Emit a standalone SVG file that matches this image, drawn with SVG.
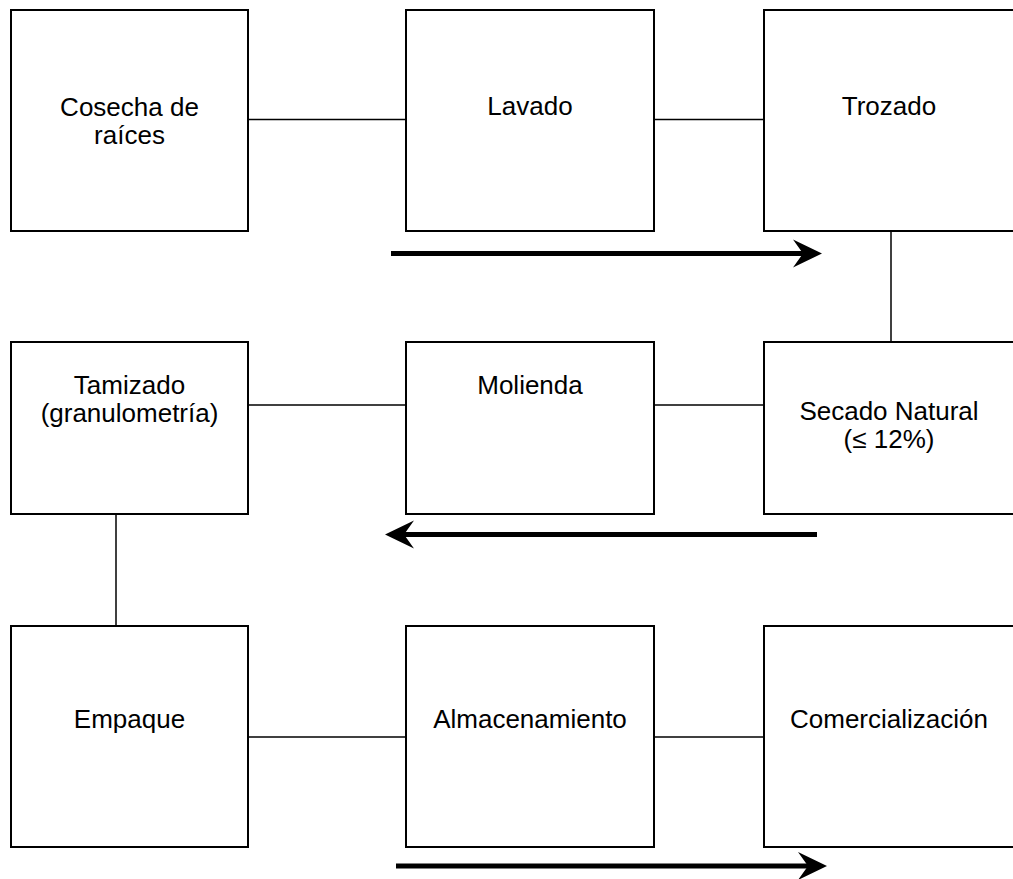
<svg xmlns="http://www.w3.org/2000/svg" width="1013" height="879" viewBox="0 0 1013 879">
  <style>
    .box { fill: #ffffff; stroke: #000000; stroke-width: 2; }
    .conn { stroke: #000000; stroke-width: 1.5; fill: none; }
    .flow { stroke: #000000; stroke-width: 5; fill: none; }
    .lbl { font-family: "Liberation Sans", Arial, sans-serif; font-size: 26px; fill: #000000; text-anchor: middle; }
  </style>
  <defs>
    <marker id="ah" markerUnits="userSpaceOnUse" markerWidth="30" markerHeight="30" viewBox="0 0 30 30" refX="10" refY="15" orient="auto">
      <path d="M0,1 L29,15 L0,29 L10,15 Z" fill="#000000"/>
    </marker>
  </defs>
  <rect width="1013" height="879" fill="#ffffff"/>

  <g id="connectors">
    <line class="conn" x1="248" y1="119.5" x2="406" y2="119.5"/>
    <line class="conn" x1="654" y1="119.5" x2="764" y2="119.5"/>
    <line class="conn" x1="891" y1="231" x2="891" y2="342"/>
    <line class="conn" x1="248" y1="405" x2="406" y2="405"/>
    <line class="conn" x1="654" y1="405" x2="764" y2="405"/>
    <line class="conn" x1="116" y1="514" x2="116" y2="626"/>
    <line class="conn" x1="248" y1="737" x2="406" y2="737"/>
    <line class="conn" x1="654" y1="737" x2="764" y2="737"/>
    <line class="flow" x1="391" y1="253.5" x2="803" y2="253.5" marker-end="url(#ah)"/>
    <line class="flow" x1="817" y1="534.5" x2="404" y2="534.5" marker-end="url(#ah)"/>
    <line class="flow" x1="396" y1="866" x2="808" y2="866" marker-end="url(#ah)"/>
  </g>

  <g id="cosecha">
    <rect class="box" x="11" y="10" width="237" height="221"/>
    <text class="lbl" x="129.5" y="116">Cosecha de</text>
    <text class="lbl" x="129.5" y="144">raíces</text>
  </g>
  <g id="lavado">
    <rect class="box" x="406" y="10" width="248" height="221"/>
    <text class="lbl" x="530" y="115">Lavado</text>
  </g>
  <g id="trozado">
    <rect class="box" x="764" y="10" width="251" height="221"/>
    <text class="lbl" x="889" y="115">Trozado</text>
  </g>

  <g id="tamizado">
    <rect class="box" x="11" y="342" width="237" height="172"/>
    <text class="lbl" x="129.5" y="394">Tamizado</text>
    <text class="lbl" x="129.5" y="422">(granulometría)</text>
  </g>
  <g id="molienda">
    <rect class="box" x="406" y="342" width="248" height="172"/>
    <text class="lbl" x="530" y="394">Molienda</text>
  </g>
  <g id="secado">
    <rect class="box" x="764" y="342" width="251" height="172"/>
    <text class="lbl" x="889" y="420">Secado Natural</text>
    <text class="lbl" x="889" y="448">(≤ 12%)</text>
  </g>

  <g id="empaque">
    <rect class="box" x="11" y="626" width="237" height="221"/>
    <text class="lbl" x="129.5" y="728">Empaque</text>
  </g>
  <g id="almacenamiento">
    <rect class="box" x="406" y="626" width="248" height="221"/>
    <text class="lbl" x="530" y="728">Almacenamiento</text>
  </g>
  <g id="comercializacion">
    <rect class="box" x="764" y="626" width="251" height="221"/>
    <text class="lbl" x="889" y="728">Comercialización</text>
  </g>
</svg>
